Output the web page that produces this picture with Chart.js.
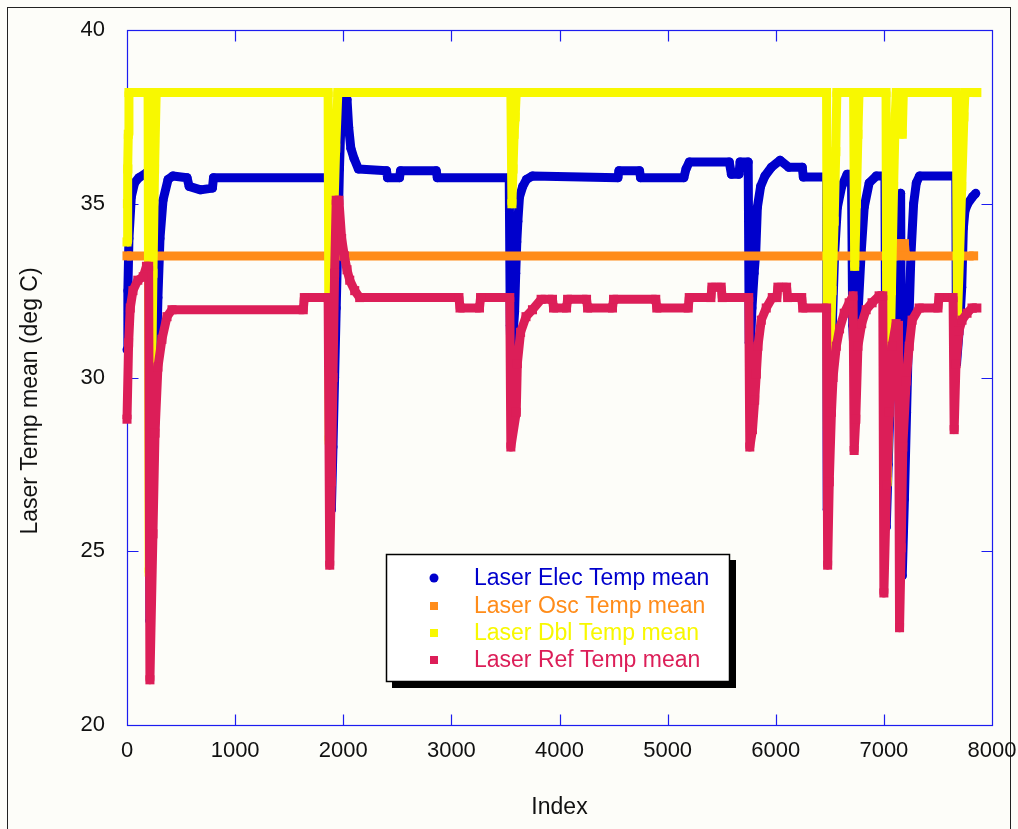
<!DOCTYPE html>
<html>
<head>
<meta charset="utf-8">
<title>Laser Temp mean</title>
<script src="https://cdn.jsdelivr.net/npm/chart.js@4.4.0/dist/chart.umd.min.js"></script>
<style>
    html, body { margin: 0; padding: 0; background: #fdfdf9; }
    #chart { display: block; }
</style>
</head>
<body>
<canvas id="chart" width="1018" height="829"></canvas>
<script>
const BACKGROUND = '#fdfdf9';
const FRAME_BLACK = '#222222';
const AXIS_BLUE = '#1c1cf0';
const TEXT_BLACK = '#111111';

const ELEC_BLUE = '#0000cc';
const OSC_ORANGE = '#ff8c1a';
const DBL_YELLOW = '#f8f800';
const REF_CRIMSON = '#dc1e58';

const FONT_FAMILY = '"Liberation Sans", Arial, sans-serif';

// axis ticks
const indexTicks = [0, 1000, 2000, 3000, 4000, 5000, 6000, 7000, 8000];
const tempTicks = [20, 25, 30, 35, 40];

const seriesNames = ['Laser Elec Temp mean', 'Laser Osc Temp mean', 'Laser Dbl Temp mean', 'Laser Ref Temp mean'];

// Laser Elec Temp mean
const elecIndex = [
    0, 8, 18, 40, 70, 110, 185, 205, 212, 225,
    245, 265, 286, 305, 333, 380, 425, 555, 575, 680,
    790, 800, 1870, 1880, 1890, 1905, 1920, 1935, 1950, 1965,
    1985, 2035, 2050, 2070, 2100, 2140, 2400, 2410, 2520, 2530,
    2860, 2870, 3535, 3545, 3550, 3570, 3585, 3595, 3605, 3615,
    3630, 3660, 3695, 3750, 4540, 4550, 4740, 4750, 5150, 5170,
    5200, 5570, 5590, 5660, 5670, 5745, 5755, 5765, 5780, 5800,
    5815, 5830, 5860, 5900, 5960, 6040, 6120, 6245, 6255, 6470,
    6476, 6495, 6513, 6525, 6545, 6570, 6610, 6660, 6700, 6712,
    6730, 6760, 6790, 6818, 6864, 6930, 7010, 7022, 7040, 7060,
    7085, 7110, 7135, 7155, 7170, 7190, 7210, 7230, 7250, 7275,
    7300, 7330, 7665, 7672, 7700, 7720, 7735, 7750, 7775, 7820,
    7850
];
const elecTemp = [
    30.8, 32.5, 34.0, 35.2, 35.6, 35.75, 35.9, 35.95, 23.0, 25.0,
    27.5, 29.5, 32.3, 34.0, 35.1, 35.7, 35.8, 35.75, 35.5, 35.4,
    35.45, 35.75, 35.75, 32.0, 26.2, 28.0, 30.0, 32.0, 34.0, 36.0,
    38.0, 38.0, 37.2, 36.6, 36.3, 36.0, 35.95, 35.75, 35.75, 35.95,
    35.95, 35.75, 35.75, 31.5, 30.6, 31.2, 31.9, 33.0, 33.9, 34.5,
    35.2, 35.5, 35.7, 35.8, 35.75, 35.95, 35.95, 35.75, 35.75, 36.0,
    36.2, 36.2, 35.85, 35.85, 36.2, 36.2, 31.0, 30.9, 32.0, 33.0,
    33.6, 34.9, 35.5, 35.8, 36.05, 36.25, 36.05, 36.05, 35.77, 35.77,
    26.2, 28.5, 30.2, 31.7, 33.6, 34.9, 35.5, 35.85, 35.85, 31.5,
    30.3, 31.8, 33.6, 34.9, 35.6, 35.8, 35.8, 25.7, 27.5, 29.5,
    32.0, 34.0, 35.0, 35.3, 24.3, 26.5, 29.0, 31.5, 33.5, 35.0,
    35.6, 35.8, 35.8, 30.4, 31.5, 32.6, 34.3, 34.8, 35.0, 35.2,
    35.3
];

// Laser Osc Temp mean
const oscIndex = [0, 7120, 7130, 7190, 7200, 7830];
const oscTemp = [33.5, 33.5, 33.85, 33.85, 33.5, 33.5];

// Laser Dbl Temp mean
const dblIndex = [
    0, 4, 8, 12, 18, 195, 205, 215, 228, 240,
    255, 270, 1860, 1870, 1885, 1900, 1915, 1930, 1950, 3550,
    3560, 3570, 3580, 3590, 3600, 6470, 6478, 6500, 6520, 6540,
    6555, 6565, 6720, 6730, 6745, 6760, 6770, 7020, 7030, 7050,
    7070, 7090, 7105, 7115, 7160, 7170, 7180, 7670, 7680, 7700,
    7720, 7740, 7750, 7860
];
const dblTemp = [
    33.9, 35.0, 36.0, 37.0, 38.2, 38.2, 24.4, 27.0, 30.0, 33.0,
    36.0, 38.2, 38.2, 28.2, 30.5, 33.0, 35.0, 36.6, 38.2, 38.2,
    35.0, 36.0, 37.0, 37.5, 38.2, 38.2, 28.6, 30.5, 32.5, 34.5,
    36.5, 38.2, 38.2, 33.2, 35.0, 37.0, 38.2, 38.2, 27.0, 29.5,
    32.5, 35.5, 37.5, 38.2, 38.2, 37.0, 38.2, 38.2, 31.7, 33.5,
    35.5, 37.5, 38.2, 38.2
];

// Laser Ref Temp mean
const refIndex = [
    0, 15, 30, 55, 100, 150, 180, 200, 212, 240,
    259, 286, 323, 370, 416, 1630, 1640, 1860, 1875, 1890,
    1905, 1920, 1935, 1960, 1985, 2010, 2035, 2060, 2106, 2152,
    3070, 3080, 3260, 3270, 3540, 3550, 3600, 3610, 3640, 3690,
    3750, 3830, 3935, 3945, 4065, 4075, 4250, 4260, 4490, 4500,
    4890, 4900, 5190, 5200, 5400, 5410, 5495, 5505, 5750, 5760,
    5785, 5805, 5820, 5835, 5866, 5912, 5968, 6010, 6020, 6100,
    6110, 6240, 6250, 6470, 6480, 6495, 6515, 6530, 6560, 6590,
    6633, 6679, 6715, 6725, 6740, 6760, 6795, 6836, 6891, 6956,
    6990, 7000, 7025, 7049, 7076, 7113, 7135, 7145, 7160, 7175,
    7206, 7234, 7261, 7326, 7500, 7510, 7640, 7650, 7667, 7695,
    7723, 7769, 7815, 7860
];
const refTemp = [
    28.8, 31.0, 32.0, 32.5, 32.8, 32.9, 33.2, 33.2, 21.3, 25.5,
    28.4, 30.3, 31.1, 31.75, 31.95, 31.95, 32.3, 32.3, 24.6, 27.0,
    30.0, 33.0, 35.1, 35.1, 34.0, 33.5, 33.1, 32.8, 32.5, 32.3,
    32.3, 32.0, 32.0, 32.3, 32.3, 28.0, 29.0, 30.4, 31.3, 31.75,
    31.95, 32.25, 32.25, 32.0, 32.0, 32.25, 32.25, 32.0, 32.0, 32.25,
    32.25, 32.0, 32.0, 32.3, 32.3, 32.6, 32.6, 32.3, 32.3, 28.0,
    28.5, 29.35, 30.1, 30.9, 31.65, 32.0, 32.3, 32.3, 32.6, 32.6,
    32.3, 32.3, 32.0, 32.0, 24.6, 27.0, 29.0, 30.0, 30.9, 31.4,
    31.85, 32.15, 32.35, 27.9, 28.8, 30.9, 31.55, 31.95, 32.15, 32.35,
    32.35, 23.8, 26.9, 29.0, 30.9, 31.55, 31.5, 22.8, 25.1, 28.0,
    29.9, 30.9, 31.65, 32.0, 32.0, 32.3, 32.3, 28.5, 30.4, 31.35,
    31.65, 31.85, 32.0, 32.0
];

window.onload = onInit;

/**
 * Builds the chart once the page is ready
 */
function onInit() {
    Chart.defaults.font.family = FONT_FAMILY;
    buildTempChart();
}

/**
 * Turns two parallel arrays into a scatter dataset drawn as a thick band of markers
 * @param label - legend text
 * @param xs - index values
 * @param ys - temperature values
 * @param colour - series colour
 * @param style - 'circle' or 'rect'
 * @param order - lower order is drawn on top
 */
function makeSeries(label, xs, ys, colour, style, order) {
    return {
        label: label,
        data: xs.map((x, i) => ({ x: x, y: ys[i] })),
        showLine: true,
        borderColor: colour,
        backgroundColor: colour,
        borderWidth: 9,
        borderJoinStyle: 'round',
        tension: 0,
        pointStyle: style,
        pointRadius: style === 'circle' ? 4.5 : 6.4,
        pointHoverRadius: style === 'circle' ? 4.5 : 6.4,
        pointBorderWidth: 0,
        pointBackgroundColor: colour,
        clip: false,
        order: order
    };
}

// draws background, outer frame, the blue plot box with inward ticks, y title and the legend box
const framePlugin = {
    id: 'frame',
    beforeDraw(chart) {
        const ctx = chart.ctx;
        ctx.save();
        ctx.fillStyle = BACKGROUND;
        ctx.fillRect(0, 0, chart.width, chart.height);
        ctx.strokeStyle = FRAME_BLACK;
        ctx.lineWidth = 1;
        ctx.strokeRect(7.5, 7.5, 1003, 840);
        ctx.restore();
    },
    beforeDatasetsDraw(chart) {
        const ctx = chart.ctx;
        const area = chart.chartArea;
        const xScale = chart.scales.x;
        const yScale = chart.scales.y;
        const left = Math.round(area.left) + 0.5;
        const right = Math.round(area.right) + 0.5;
        const top = Math.round(area.top) + 0.5;
        const bottom = Math.round(area.bottom) + 0.5;
        const tickLen = 11;

        ctx.save();
        ctx.strokeStyle = AXIS_BLUE;
        ctx.lineWidth = 1.2;
        ctx.strokeRect(left, top, right - left, bottom - top);

        ctx.beginPath();
        indexTicks.slice(1, -1).forEach(v => {
            const px = Math.round(xScale.getPixelForValue(v)) + 0.5;
            ctx.moveTo(px, top);
            ctx.lineTo(px, top + tickLen);
            ctx.moveTo(px, bottom);
            ctx.lineTo(px, bottom - tickLen);
        });
        tempTicks.slice(1, -1).forEach(v => {
            const py = Math.round(yScale.getPixelForValue(v)) + 0.5;
            ctx.moveTo(left, py);
            ctx.lineTo(left + tickLen, py);
            ctx.moveTo(right, py);
            ctx.lineTo(right - tickLen, py);
        });
        ctx.stroke();
        ctx.restore();
    },
    afterDraw(chart) {
        const ctx = chart.ctx;
        ctx.save();

        // y axis title
        ctx.translate(31, 401);
        ctx.rotate(-Math.PI / 2);
        ctx.fillStyle = TEXT_BLACK;
        ctx.font = '23px ' + FONT_FAMILY;
        ctx.textAlign = 'center';
        ctx.textBaseline = 'middle';
        ctx.fillText('Laser Temp mean (deg C)', 0, 0);
        ctx.setTransform(1, 0, 0, 1, 0, 0);

        // legend box with drop shadow
        const boxX = 386, boxY = 554, boxW = 344, boxH = 128;
        ctx.fillStyle = '#000000';
        ctx.fillRect(boxX + 6, boxY + 6, boxW, boxH);
        ctx.fillStyle = '#ffffff';
        ctx.fillRect(boxX, boxY, boxW, boxH);
        ctx.strokeStyle = '#000000';
        ctx.lineWidth = 1.5;
        ctx.strokeRect(boxX + 0.5, boxY + 0.5, boxW - 1, boxH - 1);

        const rows = [578, 606, 633, 660];
        ctx.font = '23px ' + FONT_FAMILY;
        ctx.textAlign = 'left';
        ctx.textBaseline = 'middle';
        chart.data.datasets.forEach((ds, i) => {
            const y = rows[i];
            ctx.fillStyle = ds.borderColor;
            if (ds.pointStyle === 'circle') {
                ctx.beginPath();
                ctx.arc(434, y, 4.5, 0, Math.PI * 2);
                ctx.fill();
            } else {
                ctx.fillRect(430, y - 4, 8, 8);
            }
            ctx.fillText(ds.label, 474, y + 1);
        });
        ctx.restore();
    }
};

/**
 * Builds the scatter chart of the four laser temperatures against index
 */
function buildTempChart() {
    const chartElement = document.getElementById('chart').getContext('2d');
    new Chart(chartElement, {
        type: 'scatter',
        data: {
            datasets: [
                makeSeries(seriesNames[0], elecIndex, elecTemp, ELEC_BLUE, 'circle', 3),
                makeSeries(seriesNames[1], oscIndex, oscTemp, OSC_ORANGE, 'rect', 2),
                makeSeries(seriesNames[2], dblIndex, dblTemp, DBL_YELLOW, 'rect', 1),
                makeSeries(seriesNames[3], refIndex, refTemp, REF_CRIMSON, 'rect', 0)
            ]
        },
        options: {
            responsive: false,
            animation: false,
            devicePixelRatio: 1,
            events: [],
            layout: { padding: { left: 0, top: 30, right: 26, bottom: 0 } },
            plugins: {
                legend: { display: false },
                tooltip: { enabled: false }
            },
            scales: {
                x: {
                    type: 'linear',
                    min: indexTicks[0],
                    max: indexTicks[indexTicks.length - 1],
                    afterBuildTicks: axis => { axis.ticks = indexTicks.map(v => ({ value: v })); },
                    afterFit: axis => {
                        axis.height = 104;
                        axis.paddingLeft = 0;
                        axis.paddingRight = 0;
                    },
                    grid: { display: false, drawTicks: false },
                    border: { display: false },
                    ticks: {
                        padding: 13,
                        color: TEXT_BLACK,
                        maxRotation: 0,
                        autoSkip: false,
                        font: { size: 22 },
                        callback: value => String(value)
                    },
                    title: {
                        display: true,
                        text: 'Index',
                        color: TEXT_BLACK,
                        font: { size: 23 },
                        padding: { top: 4, bottom: 8 }
                    }
                },
                y: {
                    type: 'linear',
                    min: tempTicks[0],
                    max: tempTicks[tempTicks.length - 1],
                    afterBuildTicks: axis => { axis.ticks = tempTicks.map(v => ({ value: v })); },
                    afterFit: axis => {
                        axis.width = 127;
                        axis.paddingTop = 0;
                        axis.paddingBottom = 0;
                    },
                    grid: { display: false, drawTicks: false },
                    border: { display: false },
                    ticks: {
                        padding: 22,
                        color: TEXT_BLACK,
                        font: { size: 22 },
                        callback: value => String(value)
                    }
                }
            }
        },
        plugins: [framePlugin]
    });
}
</script>
</body>
</html>
